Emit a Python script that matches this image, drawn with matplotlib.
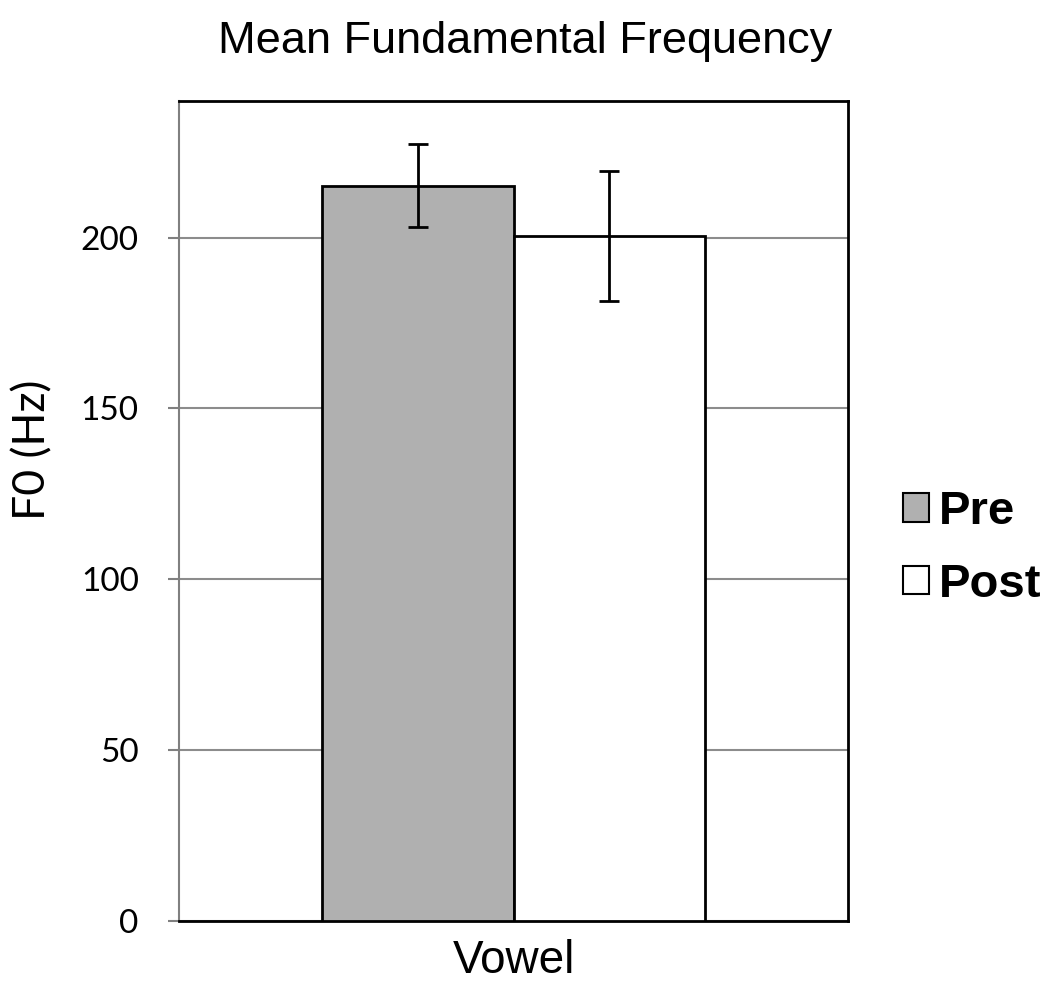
import matplotlib
matplotlib.use("Agg")
import matplotlib.pyplot as plt
from matplotlib.patches import Patch

categories = ["Vowel"]
series = ["Pre", "Post"]
means = [215.2, 200.6]
errors = [12.2, 19.0]
colors = ["#b0b0b0", "#ffffff"]
yticks = [0, 50, 100, 150, 200]

fig = plt.figure(figsize=(10.5, 9.88), dpi=100)
ax = fig.add_axes([0.1705, 0.0678, 0.6371, 0.83])

offsets = [-0.5, 0.5]
for i, s in enumerate(series):
    ax.bar(offsets[i], means[i], width=1.0, color=colors[i], edgecolor="black",
           linewidth=2, zorder=3)
    ax.errorbar(offsets[i], means[i], yerr=errors[i], fmt="none", ecolor="black",
                elinewidth=2, capsize=7, capthick=2, zorder=4)

ax.set_xlim(-1.747, 1.747)
ax.set_ylim(0, 240)
ax.set_yticks(yticks)
ax.set_yticklabels([str(v) for v in yticks], fontfamily="Lato", fontsize=24)
ax.set_xticks([0])
ax.set_xticklabels(categories, fontfamily="Liberation Sans", fontsize=33)
ax.tick_params(axis="x", length=0, pad=13)
ax.tick_params(axis="y", length=8, width=1.5, color="#808080", pad=21)
ax.yaxis.grid(True, color="#8c8c8c", linewidth=1.5, zorder=0)
ax.set_axisbelow(True)
for side in ["top", "right", "bottom"]:
    ax.spines[side].set_color("black")
    ax.spines[side].set_linewidth(2)
ax.spines["left"].set_color("#808080")
ax.spines["left"].set_linewidth(1.5)

fig.text(33 / 1050, 1 - 450 / 988, "F0 (Hz)", rotation=90, ha="center", va="center",
         fontfamily="Lato", fontsize=32)
fig.text(0.5, 1 - 41 / 988, "Mean Fundamental Frequency", ha="center", va="center",
         fontfamily="Liberation Sans", fontsize=32.5)

handles = [Patch(facecolor=colors[i], edgecolor="black", linewidth=1.5, label=s)
           for i, s in enumerate(series)]
fig.legend(handles=handles, loc="center left", bbox_to_anchor=(0.860, 0.445),
           frameon=False, borderpad=0, borderaxespad=0,
           prop={"family": "Liberation Sans", "weight": "bold", "size": 34},
           handlelength=0.55, handleheight=0.55, handletextpad=0.2, labelspacing=0.6)

fig.savefig("out.png", dpi=100)
